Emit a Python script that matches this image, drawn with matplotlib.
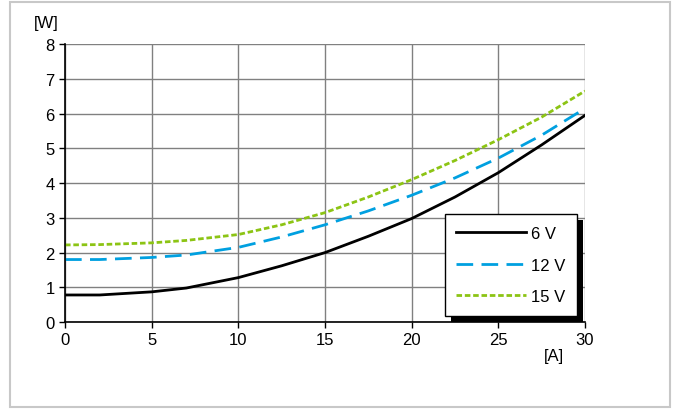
import matplotlib.pyplot as plt
from matplotlib.patches import Rectangle
from matplotlib.transforms import IdentityTransform

plt.rcParams['font.family'] = ['Liberation Sans', 'DejaVu Sans']

# current [A] vs power loss [W]
current = [0, 2, 5, 7, 10, 12.5, 15, 17.5, 20, 22.5, 25, 27.5, 30]
p_6v = [0.78, 0.78, 0.87, 0.98, 1.28, 1.62, 2.0, 2.47, 2.98, 3.6, 4.3, 5.1, 5.95]
p_12v = [1.8, 1.8, 1.86, 1.93, 2.15, 2.45, 2.8, 3.2, 3.65, 4.15, 4.72, 5.38, 6.15]
p_15v = [2.22, 2.23, 2.28, 2.35, 2.52, 2.8, 3.15, 3.6, 4.1, 4.65, 5.25, 5.9, 6.65]
labels = ["6 V", "12 V", "15 V"]

fig = plt.figure(figsize=(6.73, 4.10), dpi=100)
fig.patches.append(Rectangle((0.015, 0.006), 0.98, 0.986, transform=fig.transFigure,
                             fill=False, edgecolor='#c8c8c8', linewidth=1.5))
ax = fig.add_axes([0.0966, 0.212, 0.7727, 0.678])

ax.plot(current, p_6v, color='black', lw=2, label=labels[0])
ax.plot(current, p_12v, color='#00a0e0', lw=2, dashes=(6, 3), label=labels[1])
ax.plot(current, p_15v, color='#8cc414', lw=2, dashes=(2, 1), label=labels[2])

ax.set_xlim(0, 30)
ax.set_ylim(0, 8)
ax.set_xticks(range(0, 31, 5))
ax.set_yticks(range(0, 9))
ax.grid(True, color='#808080', lw=1)
ax.set_axisbelow(True)
for s in ['top', 'right']:
    ax.spines[s].set_visible(False)
for s in ['left', 'bottom']:
    ax.spines[s].set_linewidth(1.2)
ax.tick_params(direction='out', length=4, labelsize=12, width=1)
ax.text(-0.037, 1.05, "[W]", transform=ax.transAxes, fontsize=12, ha='center', va='bottom')
ax.text(0.94, -0.12, "[A]", transform=ax.transAxes, fontsize=12, ha='center', va='center')

leg = ax.legend(loc='lower right', bbox_to_anchor=(0.985, 0.022), fontsize=12,
                handlelength=4.2, labelspacing=1.0, handletextpad=0.3,
                borderpad=0.7, borderaxespad=0, fancybox=False, framealpha=1,
                edgecolor='black')
leg.get_frame().set_linewidth(1)
leg.set_zorder(6)

fig.canvas.draw()
bb = leg.get_window_extent()
ax.add_patch(Rectangle((bb.x0 + 6, bb.y0 - 6), bb.width, bb.height, transform=IdentityTransform(),
                       facecolor='black', edgecolor='none', clip_on=False, zorder=5))

fig.savefig('out.png', dpi=100)
